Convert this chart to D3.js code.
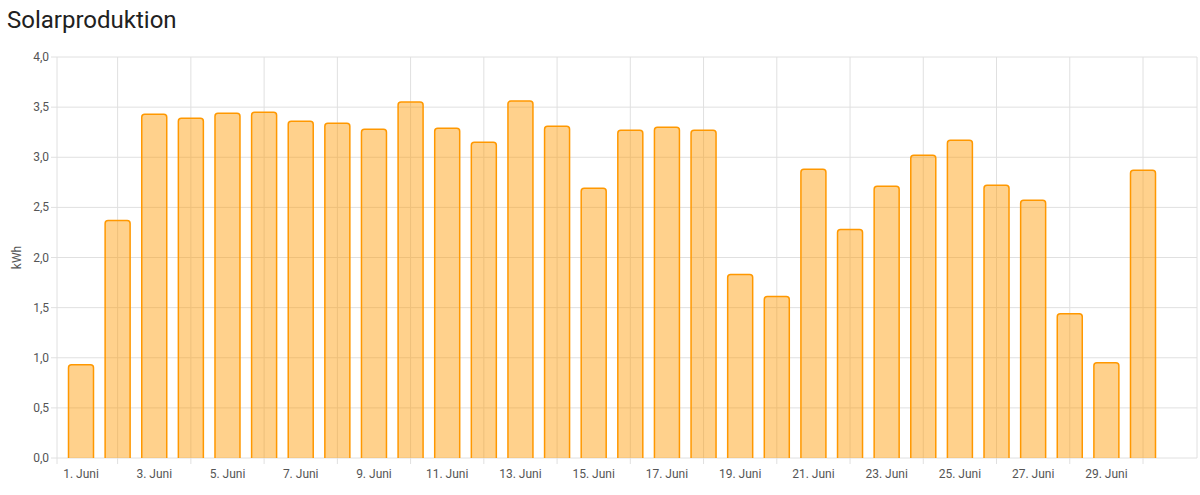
<!DOCTYPE html>
<html><head><meta charset="utf-8">
<script src="https://cdn.jsdelivr.net/npm/d3@7"></script>
<style>body{margin:0;background:#fff;font-family:Roboto,sans-serif}</style>
</head><body><svg id="c" width="1200" height="495"></svg>
<script>
const days = d3.range(1,31);
const values = [0.93,2.37,3.43,3.39,3.44,3.45,3.36,3.34,3.28,3.55,3.29,3.15,3.56,3.31,2.69,3.27,3.30,3.27,1.83,1.61,2.88,2.28,2.71,3.02,3.17,2.72,2.57,1.44,0.95,2.87];
const yTicks = [0,0.5,1,1.5,2,2.5,3,3.5,4];
const svg = d3.select("#c");
const L=57,R=1197,T=57,B=458;
const x = d3.scaleLinear().domain([1,30]).range([81,1143]);
const y = d3.scaleLinear().domain([0,4]).range([B,T]);
const fmt = d=>d3.format(".1f")(d).replace(".",",");
svg.append("text").attr("x",7).attr("y",28).attr("font-size",24).attr("fill","#212121").text("Solarproduktion");
// horizontal grid
svg.append("g").selectAll("line").data(yTicks).join("line")
 .attr("x1",L-6).attr("x2",R).attr("y1",d=>y(d)).attr("y2",d=>y(d)).attr("stroke","#e0e0e0");
// vertical grid at even days
const ev = days.filter(d=>d%2===0);
svg.append("g").selectAll("line").data(ev).join("line")
 .attr("x1",d=>x(d)).attr("x2",d=>x(d)).attr("y1",T).attr("y2",B+6).attr("stroke","#e0e0e0");
svg.append("line").attr("x1",L).attr("x2",L).attr("y1",T).attr("y2",B+6).attr("stroke","#e0e0e0");
svg.append("line").attr("x1",R).attr("x2",R).attr("y1",T).attr("y2",B).attr("stroke","#e0e0e0");
svg.append("g").selectAll("text").data(yTicks).join("text")
 .attr("x",L-8).attr("y",d=>y(d)+4).attr("text-anchor","end").attr("font-size",12).attr("fill","#555").text(fmt);
svg.append("text").attr("transform",`translate(21,${(T+B)/2}) rotate(-90)`).attr("text-anchor","middle").attr("font-size",12).attr("fill","#555").text("kWh");
svg.append("g").selectAll("text").data(days.filter(d=>d%2===1)).join("text")
 .attr("x",d=>x(d)).attr("y",B+20).attr("text-anchor","middle").attr("font-size",12).attr("fill","#555").text(d=>d+". Juni");
const w=25,r=3;
svg.append("g").selectAll("path").data(days).join("path")
 .attr("d",(d,i)=>{const x0=x(d)-w/2,x1=x(d)+w/2,yt=y(values[i]);
   return `M${x0},${B}V${yt+r}Q${x0},${yt} ${x0+r},${yt}H${x1-r}Q${x1},${yt} ${x1},${yt+r}V${B}`;})
 .attr("fill","rgba(255,152,0,0.45)").attr("stroke","#ff9800").attr("stroke-width",1.5);
</script></body></html>
